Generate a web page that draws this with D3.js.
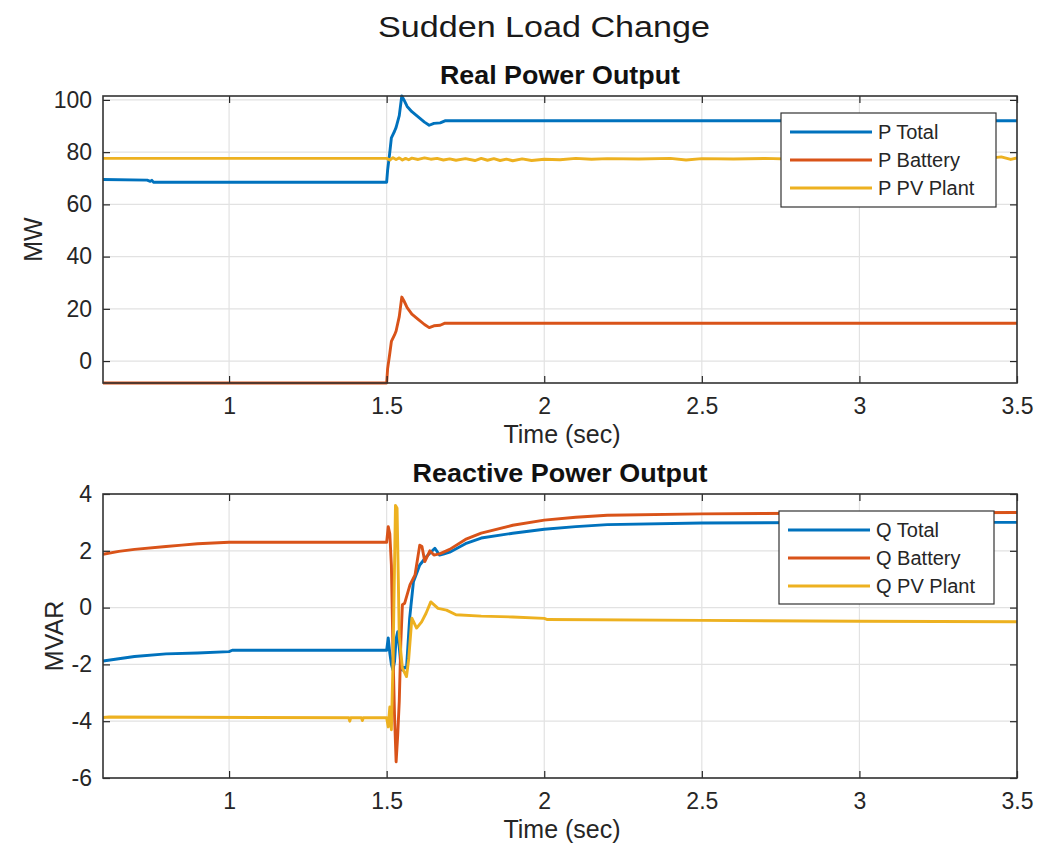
<!DOCTYPE html>
<html>
<head>
<meta charset="utf-8">
<script src="https://cdn.jsdelivr.net/npm/d3@7"></script>
<style>
  body { margin: 0; background: #fff; }
  text { font-family: "Liberation Sans", Arial, sans-serif; }
</style>
</head>
<body>
<div class="graph"></div>
<script>
// values (time in sec)
const pTotalT = [0.6, 0.74, 0.75, 0.755, 0.76, 1.5, 1.503, 1.51, 1.515, 1.525, 1.53, 1.54, 1.548, 1.555, 1.565, 1.58, 1.6, 1.62, 1.635, 1.65, 1.67, 1.685, 2.0, 2.5, 3.0, 3.5];
const pTotal  = [69.5, 69.3, 68.8, 69.2, 68.5, 68.5, 73, 80, 85.5, 88, 89.5, 94, 101.5, 100, 97.5, 95.5, 93.5, 91.5, 90.3, 91, 91.2, 92, 92, 92, 92, 92];

const pBattT = [0.6, 1.5, 1.503, 1.51, 1.515, 1.525, 1.53, 1.54, 1.548, 1.555, 1.565, 1.58, 1.6, 1.62, 1.635, 1.65, 1.67, 1.685, 2.0, 2.5, 3.0, 3.5];
const pBatt  = [-8.4, -8.4, -3, 3, 7.5, 10, 11.5, 17, 24.5, 23, 20.5, 18, 16, 14, 12.8, 13.5, 13.7, 14.5, 14.5, 14.5, 14.5, 14.5];

const pPvT = [0.6, 1.5, 1.51, 1.52, 1.53, 1.54, 1.55, 1.56, 1.57, 1.58, 1.6, 1.62, 1.64, 1.66, 1.68, 1.7, 1.72, 1.75, 1.78, 1.8, 1.82, 1.84, 1.86, 1.88, 1.9, 1.93, 1.96, 2.0, 2.05, 2.1, 2.15, 2.2, 2.3, 2.4, 2.45, 2.5, 2.6, 2.7, 2.8, 2.9, 2.95, 3.0, 3.1, 3.2, 3.3, 3.4, 3.45, 3.48, 3.5];
const pPv  = [77.6, 77.6, 77.0, 77.9, 77.2, 77.8, 77.0, 77.6, 77.1, 77.7, 77.2, 77.8, 77.3, 77.6, 77.0, 77.4, 76.9, 77.5, 76.8, 77.6, 76.9, 77.5, 76.8, 77.3, 76.7, 77.4, 76.8, 77.3, 77.1, 77.6, 77.3, 77.5, 77.4, 77.6, 77.0, 77.5, 77.4, 77.6, 77.3, 77.5, 76.8, 77.5, 77.4, 77.5, 77.3, 77.5, 78.2, 77.2, 77.8];

const qTotalT = [0.6, 0.65, 0.7, 0.8, 0.9, 1.0, 1.01, 1.5, 1.505, 1.51, 1.515, 1.52, 1.525, 1.53, 1.535, 1.54, 1.545, 1.55, 1.555, 1.563, 1.573, 1.585, 1.595, 1.605, 1.626, 1.64, 1.653, 1.668, 1.68, 1.7, 1.75, 1.8, 1.9, 2.0, 2.1, 2.2, 2.5, 3.0, 3.5];
const qTotal  = [-1.88, -1.8, -1.72, -1.63, -1.6, -1.55, -1.5, -1.5, -1.07, -1.6, -2.0, -2.2, -1.9, -1.1, -0.85, -1.4, -2.0, -2.2, -2.1, -2.13, -0.37, 0.91, 1.2, 1.5, 1.79, 1.95, 2.09, 1.85, 1.88, 1.95, 2.25, 2.45, 2.62, 2.76, 2.85, 2.92, 2.98, 3.0, 3.0];

const qBattT = [0.6, 0.65, 0.7, 0.8, 0.85, 0.9, 1.0, 1.5, 1.505, 1.51, 1.515, 1.52, 1.525, 1.53, 1.535, 1.54, 1.545, 1.55, 1.557, 1.574, 1.59, 1.605, 1.612, 1.621, 1.637, 1.65, 1.67, 1.7, 1.75, 1.8, 1.9, 2.0, 2.1, 2.2, 2.5, 3.0, 3.5];
const qBatt  = [1.88, 1.98, 2.05, 2.15, 2.2, 2.25, 2.3, 2.3, 2.85, 2.6, 1.5, -1.5, -3.8, -5.43, -4.5, -3.3, -1.2, 0.1, 0.15, 0.8, 1.15, 2.2, 2.15, 1.62, 2.0, 1.85, 1.9, 2.05, 2.4, 2.62, 2.9, 3.08, 3.18, 3.25, 3.3, 3.33, 3.35];

const qPvT = [0.6, 0.62, 1.38, 1.383, 1.386, 1.42, 1.423, 1.426, 1.5, 1.505, 1.51, 1.515, 1.52, 1.525, 1.528, 1.533, 1.537, 1.54, 1.55, 1.563, 1.57, 1.58, 1.595, 1.611, 1.625, 1.64, 1.663, 1.69, 1.72, 1.8, 1.9, 2.0, 2.01, 2.5, 3.0, 3.5];
const qPv  = [-3.87, -3.85, -3.88, -4.0, -3.88, -3.88, -3.98, -3.88, -3.88, -4.2, -3.5, -4.3, -2.0, 1.5, 3.6, 3.5, 1.0, -1.0, -2.13, -2.43, -1.8, -0.37, -0.72, -0.5, -0.2, 0.2, -0.03, -0.09, -0.25, -0.3, -0.33, -0.38, -0.42, -0.45, -0.48, -0.5];

const xTicks = [1, 1.5, 2, 2.5, 3, 3.5];
const pTicks = [0, 20, 40, 60, 80, 100];
const qTicks = [-6, -4, -2, 0, 2, 4];

const colors = ["#0072BD", "#D95319", "#EDB120"];
const ink = "#262626";

const svg = d3.select(".graph").append("svg")
    .attr("width", 1038).attr("height", 848)
    .style("background", "#fff");

svg.append("text")
    .attr("x", 544).attr("y", 37)
    .attr("text-anchor", "middle")
    .attr("textLength", 332).attr("lengthAdjust", "spacingAndGlyphs")
    .style("font-size", "30px").style("fill", "#1a1a1a")
    .text("Sudden Load Change");

const x = d3.scaleLinear().domain([0.6, 3.5]).range([103, 1017]);

function drawPanel(opt) {
    const y = d3.scaleLinear().domain(opt.yDomain).range([opt.bottom, opt.top]);
    const g = svg.append("g");

    // grid
    g.selectAll(".gx").data(xTicks).join("line")
        .attr("x1", d => x(d)).attr("x2", d => x(d))
        .attr("y1", opt.top).attr("y2", opt.bottom)
        .attr("stroke", "#e2e2e2").attr("stroke-width", 1.2);
    g.selectAll(".gy").data(opt.yTicks).join("line")
        .attr("x1", x.range()[0]).attr("x2", x.range()[1])
        .attr("y1", d => y(d)).attr("y2", d => y(d))
        .attr("stroke", "#e2e2e2").attr("stroke-width", 1.2);

    // series
    const clipId = "clip" + opt.top;
    svg.append("clipPath").attr("id", clipId).append("rect")
        .attr("x", x.range()[0]).attr("y", opt.top - 2)
        .attr("width", x.range()[1] - x.range()[0]).attr("height", opt.bottom - opt.top + 4);
    const line = d3.line().x(d => x(d[0])).y(d => y(d[1]));
    opt.series.forEach((s, i) => {
        g.append("path")
            .attr("d", line(s.t.map((t, j) => [t, s.v[j]])))
            .attr("fill", "none")
            .attr("stroke", colors[i])
            .attr("stroke-width", 2.9)
            .attr("stroke-linejoin", "round")
            .attr("clip-path", "url(#" + clipId + ")");
    });

    // axes, ticks pointing inward on all four sides
    const fmt = d => String(d);
    g.append("g")
        .attr("transform", "translate(0," + opt.bottom + ")")
        .call(d3.axisBottom(x).tickValues(xTicks).tickSizeInner(-7).tickSizeOuter(0).tickPadding(15).tickFormat(fmt));
    g.append("g")
        .attr("transform", "translate(" + x.range()[0] + ",0)")
        .call(d3.axisLeft(y).tickValues(opt.yTicks).tickSizeInner(-7).tickSizeOuter(0).tickPadding(11).tickFormat(fmt));
    g.append("g")
        .attr("transform", "translate(0," + opt.top + ")")
        .call(d3.axisTop(x).tickValues(xTicks).tickSizeInner(-7).tickSizeOuter(0).tickFormat(""));
    g.append("g")
        .attr("transform", "translate(" + x.range()[1] + ",0)")
        .call(d3.axisRight(y).tickValues(opt.yTicks).tickSizeInner(-7).tickSizeOuter(0).tickFormat(""));
    g.selectAll(".domain").remove();
    g.selectAll(".tick line").attr("stroke", ink).attr("stroke-width", 1.2);
    g.selectAll(".tick text").style("font-size", "23px").style("fill", ink);

    g.append("rect")
        .attr("x", x.range()[0]).attr("y", opt.top)
        .attr("width", x.range()[1] - x.range()[0]).attr("height", opt.bottom - opt.top)
        .attr("fill", "none").attr("stroke", "#333").attr("stroke-width", 1.6);

    // labels
    g.append("text")
        .attr("x", 560).attr("y", opt.top - 12)
        .attr("text-anchor", "middle")
        .attr("textLength", opt.titleLen).attr("lengthAdjust", "spacingAndGlyphs")
        .style("font-size", "25px").style("font-weight", "bold").style("fill", "#111")
        .text(opt.title);
    g.append("text")
        .attr("x", 562).attr("y", opt.bottom + 60)
        .attr("text-anchor", "middle")
        .style("font-size", "25px").style("fill", ink)
        .text("Time (sec)");
    g.append("text")
        .attr("transform", "translate(" + opt.yLabelX + "," + (opt.top + opt.bottom) / 2 + ") rotate(-90)")
        .attr("text-anchor", "middle")
        .style("font-size", "25px").style("fill", ink)
        .text(opt.yLabel);

    // legend
    const lg = g.append("g").attr("transform", "translate(" + opt.legend[0] + "," + opt.legend[1] + ")");
    lg.append("rect")
        .attr("width", 215).attr("height", opt.legend[2])
        .attr("fill", "#fff").attr("stroke", "#333").attr("stroke-width", 1.2);
    opt.series.forEach((s, i) => {
        const ly = 19 + i * 28;
        lg.append("line")
            .attr("x1", 9).attr("x2", 91).attr("y1", ly).attr("y2", ly)
            .attr("stroke", colors[i]).attr("stroke-width", 2.9);
        lg.append("text")
            .attr("x", 97).attr("y", ly + 7)
            .style("font-size", "20px").style("fill", ink)
            .text(s.name);
    });
}

drawPanel({
    top: 96, bottom: 383, yDomain: [-8.4, 101.5], yTicks: pTicks,
    title: "Real Power Output", titleLen: 240, yLabel: "MW", yLabelX: 42,
    legend: [781, 113, 94],
    series: [
        { name: "P Total", t: pTotalT, v: pTotal },
        { name: "P Battery", t: pBattT, v: pBatt },
        { name: "P PV Plant", t: pPvT, v: pPv }
    ]
});

drawPanel({
    top: 494, bottom: 778, yDomain: [-6, 4], yTicks: qTicks,
    title: "Reactive Power Output", titleLen: 295, yLabel: "MVAR", yLabelX: 63,
    legend: [779, 511, 93],
    series: [
        { name: "Q Total", t: qTotalT, v: qTotal },
        { name: "Q Battery", t: qBattT, v: qBatt },
        { name: "Q PV Plant", t: qPvT, v: qPv }
    ]
});
</script>
</body>
</html>
